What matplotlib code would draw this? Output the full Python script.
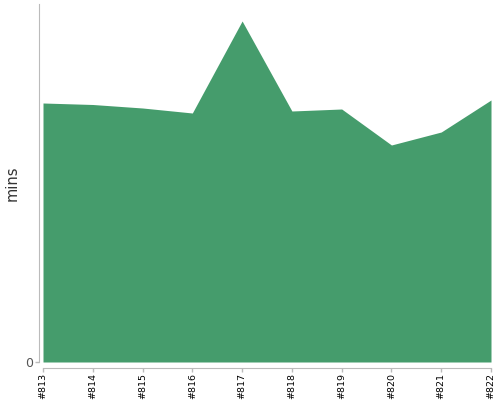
import matplotlib
matplotlib.use("Agg")
import matplotlib.pyplot as plt

# build labels and durations (mins)
builds = ['#813', '#814', '#815', '#816', '#817', '#818', '#819', '#820', '#821', '#822']
mins = [259, 257.5, 254, 249, 341, 251, 253, 217, 230, 262]
y_max = 358

fig = plt.figure(figsize=(5, 4), dpi=100)
ax = fig.add_axes([0.086, 0.095, 0.896, 0.895])

# spines first: set_position resets the ticks
for s in ['top', 'right']:
    ax.spines[s].set_visible(False)
ax.spines['left'].set_position(('outward', 3))
ax.spines['bottom'].set_position(('outward', 4))
for s in ['left', 'bottom']:
    ax.spines[s].set_color('#bbbbbb')

x = list(range(len(builds)))
ax.fill_between(x, mins, 0, color='#459c6c', linewidth=0)

ax.set_xlim(0, len(builds) - 1)
ax.set_ylim(0, y_max)
ax.set_xticks(x)
ax.set_xticklabels(builds, rotation=90, fontsize=6.8, color='black')
ax.set_yticks([0])
ax.set_yticklabels(['0'], fontsize=9, color='#555555')
ax.tick_params(axis='both', colors='#bbbbbb', length=3, width=1, pad=1)
for lbl in ax.get_xticklabels():
    lbl.set_color('black')
for lbl in ax.get_yticklabels():
    lbl.set_color('#555555')
ax.set_ylabel('mins', fontsize=10.5, color='#333333')
ax.yaxis.set_label_coords(-0.053, 0.5)

fig.savefig('out.png', dpi=100)
